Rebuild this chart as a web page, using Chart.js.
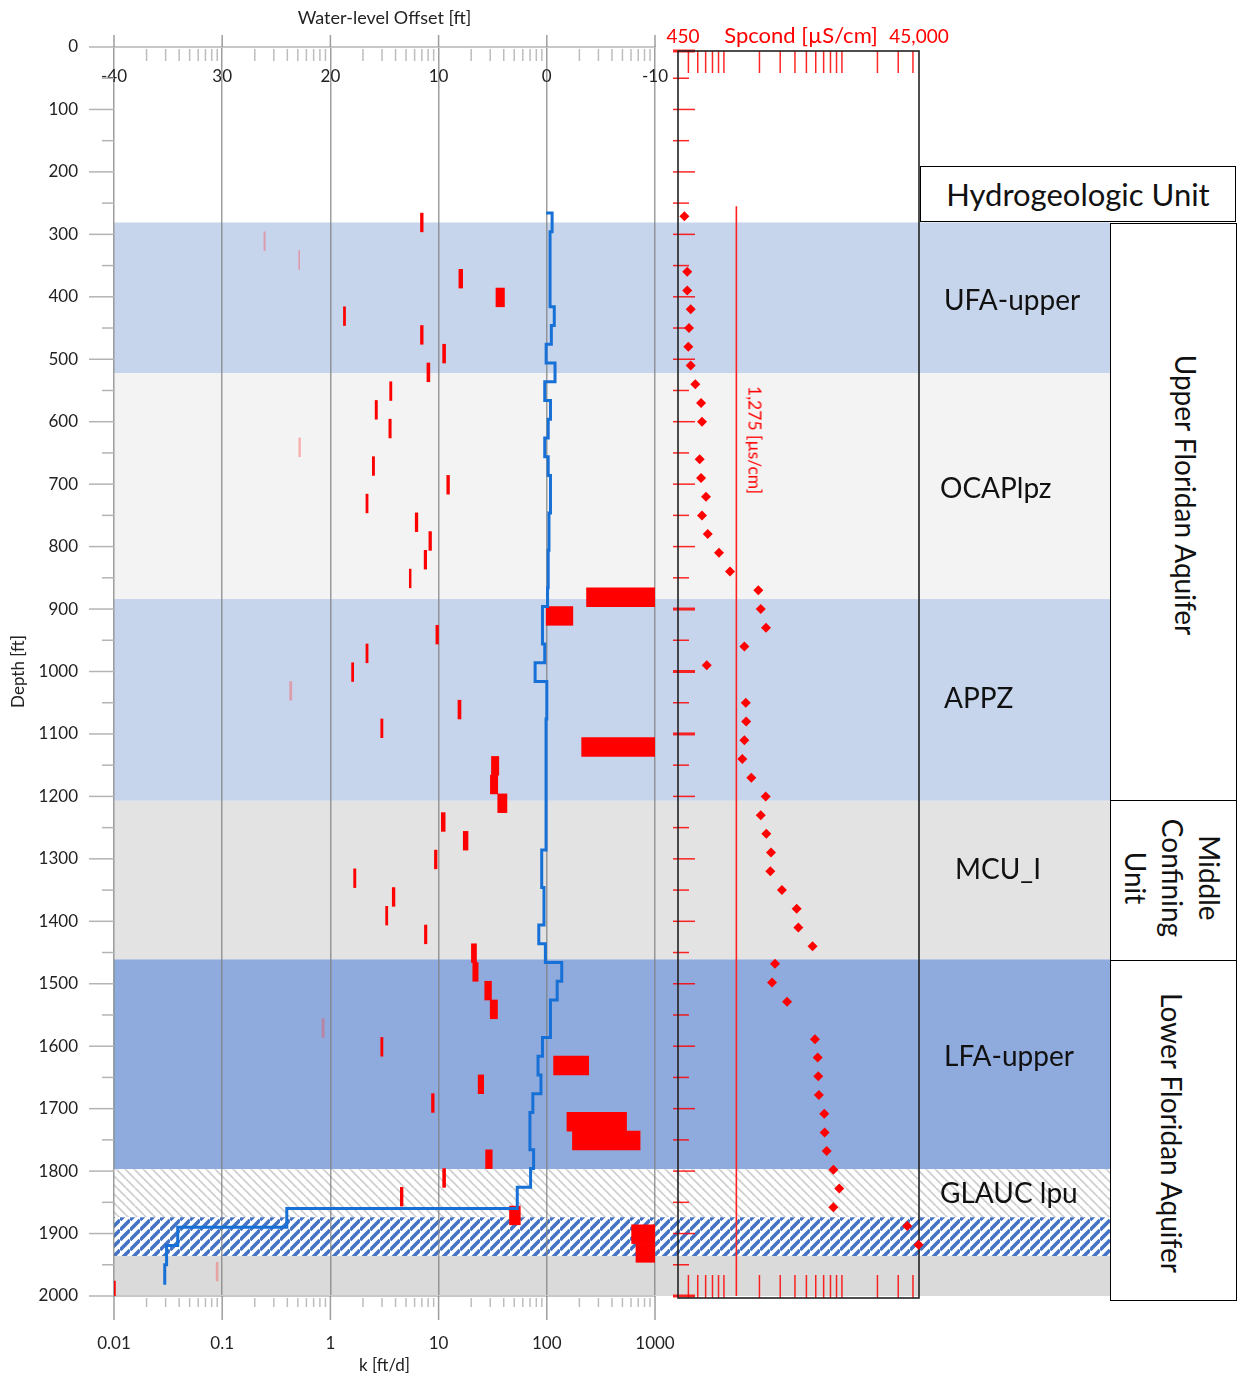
<!DOCTYPE html>
<html><head><meta charset="utf-8">
<script src="https://cdn.jsdelivr.net/npm/chart.js@4.4.1/dist/chart.umd.min.js"></script>
<style>
html,body{margin:0;padding:0;background:#fff;}
#wrap{position:relative;width:1243px;height:1379px;overflow:hidden;font-family:Lato,"Noto Sans",sans-serif;}
canvas{position:absolute;top:0;}
.lbl{position:absolute;white-space:nowrap;color:#111;font-size:28px;transform:translateY(-50%);z-index:5;}
.rot{position:absolute;white-space:nowrap;color:#111;font-size:28px;transform:translate(-50%,-50%) rotate(90deg);z-index:6;text-align:center;}
.box{position:absolute;border:1.5px solid #000;box-sizing:border-box;background:#fff;z-index:4;}
</style></head><body>
<div id="wrap">
<canvas id="c1" width="1243" height="1379" style="left:0"></canvas>
<canvas id="c2" width="340" height="1379" style="left:640px"></canvas>

<div class="box" style="left:920px;top:166px;width:316px;height:56px;display:flex;align-items:center;justify-content:center;font-size:31px;color:#111;">Hydrogeologic Unit</div>
<div class="lbl" style="left:944px;top:299px;">UFA-upper</div>
<div class="lbl" style="left:940px;top:487px;">OCAPlpz</div>
<div class="lbl" style="left:944px;top:697px;">APPZ</div>
<div class="lbl" style="left:955px;top:868px;">MCU_I</div>
<div class="lbl" style="left:944px;top:1055px;">LFA-upper</div>
<div class="lbl" style="left:940px;top:1192px;">GLAUC lpu</div>

<div class="box" style="left:1110px;top:223px;width:127px;height:578px;"></div>
<div class="box" style="left:1110px;top:800px;width:127px;height:161px;"></div>
<div class="box" style="left:1110px;top:960px;width:127px;height:341px;"></div>
<div class="rot" style="left:1186px;top:495px;">Upper Floridan Aquifer</div>
<div class="rot" style="left:1172px;top:878px;line-height:37px;">Middle<br>Confining<br>Unit</div>
<div class="rot" style="left:1172px;top:1133px;">Lower Floridan Aquifer</div>

<div class="rot" style="left:755px;top:440px;font-size:17.5px;color:#ff0000;">1,275 [µs/cm]</div>
</div>
<script>
// ---------------- DATA ----------------
const kTickLabels = ['0.01', '0.1', '1', '10', '100', '1000'];
const offsetTickLabels = ['-40', '30', '20', '10', '0', '-10'];
const spTickValues = [450, 45000];
const spTickLabels = ['450', '45,000'];

// hydraulic conductivity intervals (top depth, ft) and k range (ft/d)
const kInterval = 30;
const kDepthTop = [266, 296, 326, 356, 386, 416, 446, 476, 506, 536,
  566, 596, 626, 656, 686, 716, 746, 776, 806, 836,
  866, 896, 926, 956, 986, 1016, 1046, 1076, 1106, 1136,
  1166, 1196, 1226, 1256, 1286, 1316, 1346, 1376, 1406, 1436,
  1466, 1496, 1526, 1556, 1586, 1616, 1646, 1676, 1706, 1736,
  1766, 1796, 1826, 1856, 1886, 1916, 1946, 1976];
const kLow = [6.8, 0.243, 0.509, 15.4, 33.9, 1.32, 6.8, 10.9, 7.8, 3.53,
  2.59, 3.47, 0.51, 2.44, 11.9, 2.13, 6.08, 8.13, 7.35, 5.36,
  233, 98.7, 9.44, 2.13, 1.57, 0.42, 15.1, 2.92, 210, 30.8,
  30.1, 35.2, 10.6, 16.9, 9.15, 1.64, 3.73, 3.24, 7.4, 20.1,
  20.7, 26.7, 30, 0.836, 2.92, 115.6, 23.2, 8.6, 153.5, 172.6,
  27.2, 10.9, 4.43, 45.2, 608, 667, 0.088, 0.0098];
const kHigh = [7.2, 0.25, 0.52, 16.7, 40.6, 1.38, 7.2, 11.6, 8.3, 3.7,
  2.72, 3.65, 0.53, 2.56, 12.6, 2.23, 6.43, 8.6, 7.76, 5.57,
  1000, 174, 9.98, 2.23, 1.64, 0.44, 16.1, 3.06, 1000, 36,
  35.2, 42.8, 11.5, 18.7, 9.67, 1.72, 3.95, 3.39, 7.8, 22.4,
  23.2, 30.8, 35, 0.877, 3.06, 243.8, 26.1, 9.1, 546, 728,
  31.3, 11.6, 4.69, 56.9, 1000, 1000, 0.0915, 0.0103];
const kPaleIdx = [1, 2, 12, 25, 43, 56];

// water-level offset step profile (depth ft, offset ft)
const wlDepth = [266, 266, 296, 416, 446, 476, 506, 536, 566, 596,
  626, 656, 686, 746, 806, 866, 896, 956, 986, 1016,
  1076, 1286, 1346, 1406, 1436, 1466, 1496, 1526, 1586, 1616,
  1646, 1676, 1706, 1766, 1796, 1826, 1860, 1890, 1919, 1950, 1982];
const wlOffset = [0.06, -0.49, -0.30, -0.69, -0.42, 0.06, -0.76, 0.19, -0.34, -0.13,
  0.19, -0.13, -0.34, -0.20, -0.13, -0.07, 0.40, 0.19, 1.08, 0.0,
  0.07, 0.47, 0.26, 0.74, 0.13, -1.38, -0.96, -0.34, 0.40, 0.81,
  0.54, 1.29, 1.56, 1.22, 1.50, 2.73, 24.03, 34.11, 35.14, 35.31, 35.31];

// specific conductance samples (depth ft, uS/cm)
const spDepth = [271, 360, 390, 420, 450, 480, 510, 540, 570, 600,
  660, 690, 720, 750, 780, 810, 840, 870, 900, 930,
  960, 990, 1050, 1080, 1110, 1140, 1170, 1200, 1230, 1260,
  1290, 1320, 1350, 1380, 1410, 1440, 1468, 1498, 1529, 1589,
  1618, 1648, 1678, 1708, 1738, 1768, 1798, 1828, 1858, 1888, 1918];
const spCond = [462, 489, 489, 523, 506, 499, 523, 572, 640, 652,
  623, 640, 705, 652, 729, 908, 1126, 1957, 2052, 2274,
  1490, 715, 1532, 1545, 1490, 1432, 1707, 2258, 2052, 2286,
  2506, 2472, 3104, 4135, 4273, 5642, 2711, 2558, 3429, 5909,
  6230, 6300, 6379, 7083, 7135, 7427, 8460, 9495, 8460, 35800, 44600];
const refCond = 1275;
const refDepth = [255, 2000];

// hydrogeologic unit bands (depth ft)
const bandTop = [281, 522, 884, 1207, 1461, 1797, 1874, 1936];
const bandBottom = [522, 884, 1207, 1461, 1797, 1874, 1936, 2000];
// ---------------- STYLE ----------------
const bandStyle = ['#C6D4EC', '#F3F3F3', '#C6D4EC', '#E3E3E3', '#8FAADC', 'hatchGray', 'hatchBlue', '#DADADA'];
const BAND_RIGHT = 1110;
const spThickTickDepths = [0, 900, 1000, 1100, 2000];
const FONT = 'Lato';
const GRID = 'rgba(125,125,125,0.75)';
const MINOR = '#BDBDBD';

function makeHatch(ctx, bg, fg, p, lw, dir) {
  const c = document.createElement('canvas'); c.width = p; c.height = p;
  const g = c.getContext('2d');
  g.fillStyle = bg; g.fillRect(0, 0, p, p);
  g.strokeStyle = fg; g.lineWidth = lw; g.beginPath();
  if (dir === 'back') { for (const o of [-p, 0, p]) { g.moveTo(0, o); g.lineTo(p, p + o); } }
  else { for (const o of [0, p, 2 * p]) { g.moveTo(0, o); g.lineTo(p, o - p); } }
  g.stroke();
  return ctx.createPattern(c, 'repeat');
}
let patterns = null;
function fillFor(style, ctx) {
  if (!patterns) patterns = {
    hatchGray: makeHatch(ctx, '#FFFFFF', '#CFCFCF', 9, 1.8, 'back'),
    hatchBlue: makeHatch(ctx, '#FFFFFF', '#4472C4', 10, 3.6, 'fwd')
  };
  return patterns[style] || style;
}

function logTicks(lo, hi) {
  const t = [];
  for (let e = -3; e <= 5; e++) for (let m = 1; m <= 9; m++) {
    const v = +(m * Math.pow(10, e)).toPrecision(3);
    if (v >= lo * 0.9999 && v <= hi * 1.0001) t.push({ value: v, major: m === 1 });
  }
  return t;
}

const decor1 = {
  id: 'decor1',
  beforeDraw(chart) {
    const { ctx, chartArea: a, scales: { y } } = chart;
    ctx.save();
    for (let i = 0; i < bandTop.length; i++) {
      const t = y.getPixelForValue(bandTop[i]), b = y.getPixelForValue(bandBottom[i]);
      ctx.fillStyle = fillFor(bandStyle[i], ctx);
      ctx.fillRect(a.left, t, BAND_RIGHT - a.left, b - t);
    }
    ctx.restore();
  },
  afterDraw(chart) {
    const { ctx, chartArea: a, scales: { x, xTop, y } } = chart;
    ctx.save();
    ctx.lineWidth = 1.5;
    y.ticks.forEach(t => {
      const p = y.getPixelForValue(t.value);
      const major = t.value % 100 === 0;
      ctx.strokeStyle = '#B4B4B4';
      ctx.beginPath(); ctx.moveTo(a.left - (major ? 25 : 12), p); ctx.lineTo(a.left, p); ctx.stroke();
    });
    x.ticks.forEach(t => {
      const p = x.getPixelForValue(t.value);
      ctx.beginPath();
      if (t.major) { ctx.strokeStyle = GRID; ctx.moveTo(p, a.bottom); ctx.lineTo(p, a.bottom + 24); }
      else { ctx.strokeStyle = MINOR; ctx.moveTo(p, a.bottom + 2); ctx.lineTo(p, a.bottom + 11); }
      ctx.stroke();
    });
    xTop.ticks.forEach(t => {
      const p = xTop.getPixelForValue(t.value);
      ctx.beginPath();
      if (t.major) { ctx.strokeStyle = GRID; ctx.moveTo(p, a.top - 12); ctx.lineTo(p, a.top); }
      else { ctx.strokeStyle = MINOR; ctx.moveTo(p, a.top + 2); ctx.lineTo(p, a.top + 14); }
      ctx.stroke();
    });
    ctx.restore();
  }
};

const decor2 = {
  id: 'decor2',
  beforeDatasetsDraw(chart) {
    const { ctx, chartArea: a, scales: { x, y } } = chart;
    const fl = a.left - 5, ft = a.top + 4, fr = a.right, fb = a.bottom + 2;
    ctx.save();
    ctx.strokeStyle = 'rgba(255,0,0,0.85)';
    ctx.lineWidth = 1.5;
    x.ticks.forEach(t => {
      if (spTickValues.includes(t.value)) return;
      const p = x.getPixelForValue(t.value);
      ctx.beginPath(); ctx.moveTo(p, ft); ctx.lineTo(p, ft + 22); ctx.stroke();
      ctx.beginPath(); ctx.moveTo(p, fb); ctx.lineTo(p, fb - 23); ctx.stroke();
    });
    y.ticks.forEach(t => {
      const p = Math.max(y.getPixelForValue(t.value), ft);
      const major = t.value % 100 === 0;
      ctx.lineWidth = spThickTickDepths.includes(t.value) ? 3 : 1.5;
      ctx.beginPath(); ctx.moveTo(fl - 5, p); ctx.lineTo(fl + (major ? 17 : 11), p); ctx.stroke();
    });
    ctx.strokeStyle = '#222'; ctx.lineWidth = 1.6;
    ctx.strokeRect(fl, ft, fr - fl, fb - ft);
    ctx.restore();
  }
};

function run() {
  const c1 = new Chart(document.getElementById('c1'), {
    type: 'bar',
    data: {
      datasets: [
        {
          type: 'line', indexAxis: 'y', label: 'Water-level Offset',
          data: wlDepth.map((d, i) => ({ x: wlOffset[i], y: d })),
          xAxisID: 'xOff', yAxisID: 'y', stepped: 'after',
          borderColor: '#1770D6', borderWidth: 3, pointRadius: 0, fill: false, order: 0
        },
        {
          type: 'bar', indexAxis: 'y', label: 'k',
          data: kDepthTop.map((d, i) => ({ x: [kLow[i], kHigh[i]], y: d + kInterval / 2 })),
          xAxisID: 'x', yAxisID: 'y', barThickness: 18,
          backgroundColor: ctx => kPaleIdx.includes(ctx.dataIndex) ? 'rgba(255,70,70,0.38)' : '#FF0000',
          borderWidth: 0, order: 1
        }
      ]
    },
    options: {
      indexAxis: 'y', responsive: false, animation: false, devicePixelRatio: 1,
      layout: { padding: { left: 0, right: 1243 - 655, top: 0, bottom: 0 } },
      plugins: { legend: { display: false }, tooltip: { enabled: false } },
      scales: {
        y: {
          type: 'linear', position: 'left', reverse: true, min: 0, max: 2000, offset: false,
          afterFit: s => { s.width = 114; },
          ticks: { stepSize: 50, autoSkip: false, padding: 36, color: '#222', font: { family: FONT, size: 17 },
            callback: v => (v % 100 === 0 ? String(v) : '') },
          grid: { display: false, drawTicks: false, offset: false }, border: { display: false },
          title: { display: true, text: 'Depth [ft]', color: '#222', font: { family: FONT, size: 17 }, padding: { top: 8, bottom: 0 } }
        },
        x: {
          type: 'logarithmic', position: 'bottom', min: 0.01, max: 1000,
          afterFit: s => { s.height = 83; },
          afterBuildTicks: s => { s.ticks = logTicks(0.01, 1000); },
          ticks: { autoSkip: false, maxRotation: 0, padding: 37, color: '#222', font: { family: FONT, size: 17 },
            callback: (v, i, t) => (t[i] && t[i].major ? kTickLabels[Math.round(Math.log10(v)) + 2] : '') },
          grid: { drawTicks: false, lineWidth: 1.5, color: c => (c.tick && c.tick.major ? GRID : 'rgba(0,0,0,0)') },
          border: { display: true, color: '#C8C8C8', width: 2 },
          title: { display: true, text: 'k [ft/d]', color: '#222', font: { family: FONT, size: 17 }, padding: { top: 0, bottom: 3 } }
        },
        xTop: {
          type: 'logarithmic', position: 'top', min: 0.01, max: 1000,
          afterFit: s => { s.height = 47; },
          afterBuildTicks: s => { s.ticks = logTicks(0.01, 1000); },
          ticks: { autoSkip: false, maxRotation: 0, mirror: true, padding: 19, color: '#222', font: { family: FONT, size: 17 },
            callback: (v, i, t) => (t[i] && t[i].major ? offsetTickLabels[Math.round(Math.log10(v)) + 2] : '') },
          grid: { display: false, drawTicks: false },
          border: { display: true, color: '#C8C8C8', width: 2 },
          title: { display: true, text: 'Water-level Offset [ft]', color: '#222', font: { family: FONT, size: 18 }, padding: { top: 7, bottom: 0 } }
        },
        xOff: { type: 'linear', display: false, position: 'top', min: -10, max: 40, reverse: true }
      }
    },
    plugins: [decor1]
  });
  const ys = c1.scales.y;
  c1.data.datasets[1].barThickness = Math.abs(ys.getPixelForValue(kInterval) - ys.getPixelForValue(0));
  c1.update('none');

  new Chart(document.getElementById('c2'), {
    type: 'scatter',
    data: {
      datasets: [
        {
          type: 'scatter', label: 'Spcond',
          data: spDepth.map((d, i) => ({ x: spCond[i], y: d })),
          pointStyle: 'rectRot', pointRadius: 5, backgroundColor: '#FF0000', borderWidth: 0, clip: false
        },
        {
          type: 'line', label: '1,275',
          data: refDepth.map(d => ({ x: refCond, y: d })),
          borderColor: '#FF2020', borderWidth: 1.6, pointRadius: 0, fill: false
        }
      ]
    },
    options: {
      responsive: false, animation: false, devicePixelRatio: 1,
      layout: { padding: { left: 0, right: 340 - 279, top: 0, bottom: 1379 - 1296 } },
      plugins: { legend: { display: false }, tooltip: { enabled: false } },
      scales: {
        x: {
          type: 'logarithmic', position: 'top', min: 450, max: 45000,
          afterFit: s => { s.height = 47; },
          afterBuildTicks: s => { s.ticks = [{ value: 450, major: true }].concat(logTicks(500, 40000)).concat([{ value: 45000, major: true }]); },
          ticks: { autoSkip: false, maxRotation: 0, padding: -1, color: '#FF0000', font: { family: FONT, size: 19 },
            callback: v => { const i = spTickValues.indexOf(v); return i >= 0 ? spTickLabels[i] : ''; } },
          grid: { display: false, drawTicks: false }, border: { display: false },
          title: { display: true, text: 'Spcond [µS/cm]', color: '#FF0000', font: { family: FONT, size: 22 }, padding: { top: 23, bottom: 0 } }
        },
        y: {
          type: 'linear', position: 'left', reverse: true, min: 0, max: 2000, offset: false,
          afterFit: s => { s.width = 43; },
          ticks: { stepSize: 50, display: false },
          grid: { display: false, drawTicks: false }, border: { display: false }
        }
      }
    },
    plugins: [decor2]
  });
}
if (document.fonts && document.fonts.load) {
  Promise.all([document.fonts.load('17px Lato'), document.fonts.load('28px Lato')]).then(run, run);
} else run();
</script>
</body></html>
